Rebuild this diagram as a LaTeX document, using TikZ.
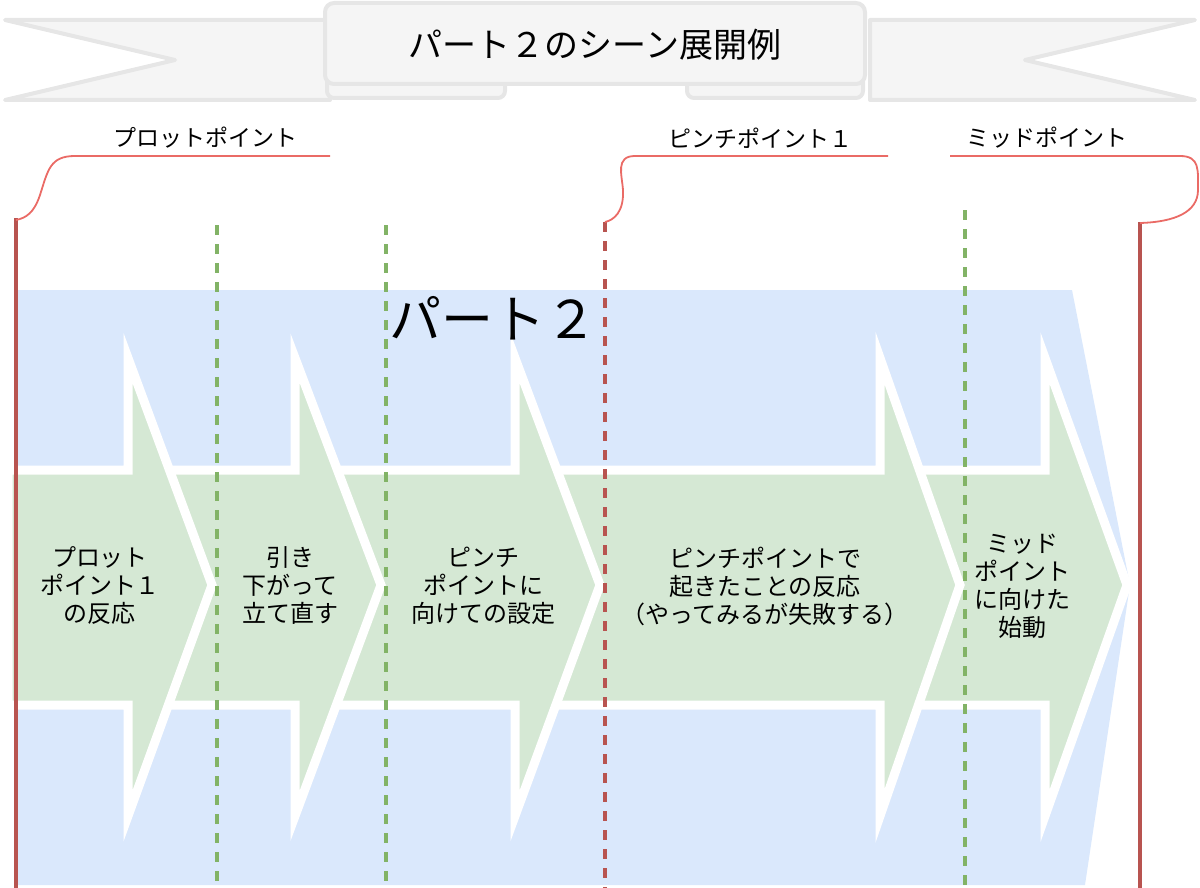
\documentclass[tikz,border=0pt]{standalone}
\usepackage{fontspec}
\setmainfont{Noto Sans CJK JP}
\begin{document}
\begin{tikzpicture}[x=1pt,y=-1pt,
  blue/.style={fill={rgb,255:red,218;green,232;blue,252}},
  arr/.style={fill={rgb,255:red,213;green,232;blue,212},draw=white,line width=9pt,line join=miter},
  atxt/.style={align=center,font=\fontsize{24}{28}\selectfont},
  redl/.style={draw={rgb,255:red,184;green,84;blue,80},line width=3.5pt},
  grnl/.style={draw={rgb,255:red,130;green,179;blue,102},line width=3.5pt,dash pattern=on 10pt off 9pt},
  brace/.style={draw={rgb,255:red,234;green,107;blue,102},line width=1.8pt},
  ban/.style={fill={rgb,255:red,245;green,245;blue,245},draw={rgb,255:red,230;green,230;blue,230},line width=4pt,line join=round},
  lbl/.style={font=\fontsize{23}{24}\selectfont}]
\useasboundingbox (0,0) rectangle (1200,888);
% banner
\draw[ban] (5,20) -- (330,20) -- (330,100) -- (5,100) -- (175,60) -- cycle;
\draw[ban] (1195,20) -- (870,20) -- (870,100) -- (1195,100) -- (1025,60) -- cycle;
\draw[ban,rounded corners=7pt] (327,66) rectangle (505,98);
\draw[ban,rounded corners=7pt] (687,66) rectangle (863,98);
\draw[ban,rounded corners=9pt] (325,3) rectangle (865,84);
\node (title) at (595,45) {\fontsize{34}{36}\selectfont パート２のシーン展開例};
% blue area
\path[blue] (14,290) -- (1072,290) -- (1130,585) -- (1085,885) -- (14,885) -- cycle;
% arrows right to left
\draw[arr] (880,470) -- (1045,470) -- (1045,358) -- (1127,585) -- (1045,816) -- (1045,705) -- (880,705) -- cycle;
\draw[arr] (515,470) -- (880,470) -- (880,358) -- (960,585) -- (880,816) -- (880,705) -- (515,705) -- cycle;
\draw[arr] (295,470) -- (515,470) -- (515,358) -- (600,585) -- (515,816) -- (515,705) -- (295,705) -- cycle;
\draw[arr] (128,470) -- (295,470) -- (295,358) -- (381,585) -- (295,816) -- (295,705) -- (128,705) -- cycle;
\draw[arr] (8,470) -- (128,470) -- (128,358) -- (212,585) -- (128,816) -- (128,705) -- (8,705) -- cycle;
\node (p2) at (493,318) {\fontsize{52}{54}\selectfont パート２};
\node[atxt] (a1) at (100,586) {プロット\\ポイント１\\の反応};
\node[atxt] (a2) at (290,586) {引き\\下がって\\立て直す};
\node[atxt] (a3) at (483,586) {ピンチ\\ポイントに\\向けての設定};
\node[atxt] (a4) at (765,586) {ピンチポイントで\\起きたことの反応\\（やってみるが失敗する）};
\node[atxt] (a5) at (1022,586) {ミッド\\ポイント\\に向けた\\始動};
% vertical lines
\coordinate (v1t) at (16,218); \coordinate (v1b) at (16,888);
\coordinate (v2t) at (217,225); \coordinate (v2b) at (217,888);
\coordinate (v3t) at (386,225); \coordinate (v3b) at (386,888);
\coordinate (v4t) at (605,222); \coordinate (v4b) at (605,888);
\coordinate (v5t) at (965,210); \coordinate (v5b) at (965,888);
\coordinate (v6t) at (1140,222); \coordinate (v6b) at (1140,888);
\draw[redl] (v1t) -- (v1b);
\draw[grnl] (v2t) -- (v2b);
\draw[grnl] (v3t) -- (v3b);
\draw[redl,dash pattern=on 10pt off 9pt] (v4t) -- (v4b);
\draw[grnl] (v5t) -- (v5b);
\draw[redl] (v6t) -- (v6b);
% braces
\draw[brace] (330,156) -- (75,156) .. controls (50,156) and (48,170) .. (40,195) .. controls (34,213) and (26,218) .. (16,220);
\draw[brace] (888,156) -- (635,156) .. controls (615,156) and (622,175) .. (623,190) .. controls (624,212) and (614,220) .. (605,222);
\draw[brace] (950,156) -- (1180,156) .. controls (1200,156) and (1198,170) .. (1198,190) .. controls (1198,212) and (1175,222) .. (1140,223);
\node[lbl] (l1) at (205,138) {プロットポイント};
\node[lbl] (l2) at (760,138) {ピンチポイント１};
\node[lbl] (l3) at (1047,138) {ミッドポイント};
\end{tikzpicture}
\end{document}
